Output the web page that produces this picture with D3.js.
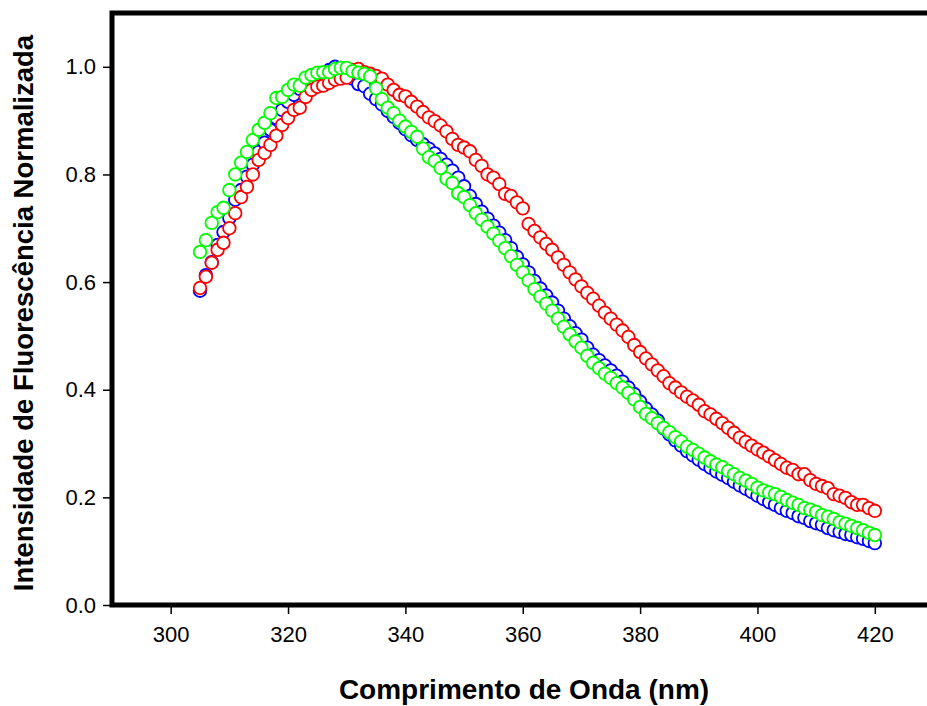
<!DOCTYPE html>
<html lang="pt">
<head>
    <meta charset="utf-8">
    <title>Fluorescência</title>
    <script src="https://d3js.org/d3.v7.min.js"></script>
    <style>
        body { margin: 0; background: #fff; }
        text { font-family: Arial, "Liberation Sans", sans-serif; }
        .tick text { font-size: 22px; fill: #000; }
        .tick line { stroke: #000; stroke-width: 1.5; }
        .domain { display: none; }
    </style>
</head>
<body>

<script>
    // comprimento de onda, 305..420 nm de 1 em 1
    const wavelengths = d3.range(305, 421, 1);

    const blueValues = [
        0.584, 0.613, 0.637, 0.669, 0.693, 0.719, 0.753, 0.771, 0.796, 0.818,
        0.842, 0.859, 0.883, 0.905, 0.920, 0.935, 0.948, 0.959, 0.972, 0.976,
        0.981, 0.987, 0.994, 1.000, 0.998, 0.994, 0.978, 0.968, 0.964, 0.950,
        0.940, 0.930, 0.918, 0.907, 0.896, 0.884, 0.873, 0.864, 0.856, 0.848,
        0.839, 0.829, 0.818, 0.807, 0.794, 0.778, 0.760, 0.745, 0.731, 0.718,
        0.705, 0.692, 0.678, 0.663, 0.647, 0.633, 0.618, 0.602, 0.588, 0.575,
        0.562, 0.547, 0.532, 0.518, 0.505, 0.493, 0.478, 0.465, 0.455, 0.445,
        0.436, 0.426, 0.415, 0.404, 0.392, 0.378, 0.365, 0.354, 0.343, 0.328,
        0.317, 0.306, 0.296, 0.286, 0.278, 0.270, 0.262, 0.255, 0.248, 0.242,
        0.236, 0.229, 0.222, 0.216, 0.210, 0.203, 0.197, 0.191, 0.186, 0.180,
        0.175, 0.171, 0.165, 0.162, 0.156, 0.152, 0.149, 0.143, 0.139, 0.136,
        0.132, 0.130, 0.126, 0.123, 0.119, 0.115
    ];

    const redValues = [
        0.589, 0.610, 0.636, 0.660, 0.673, 0.700, 0.728, 0.758, 0.777, 0.800,
        0.827, 0.840, 0.855, 0.872, 0.892, 0.905, 0.920, 0.924, 0.944, 0.957,
        0.963, 0.965, 0.970, 0.976, 0.978, 0.980, 0.994, 0.996, 0.990, 0.987,
        0.983, 0.978, 0.967, 0.957, 0.948, 0.945, 0.935, 0.926, 0.916, 0.906,
        0.899, 0.891, 0.880, 0.866, 0.855, 0.850, 0.843, 0.827, 0.816, 0.800,
        0.794, 0.782, 0.764, 0.760, 0.748, 0.737, 0.708, 0.695, 0.683, 0.671,
        0.660, 0.646, 0.632, 0.618, 0.605, 0.592, 0.580, 0.569, 0.556, 0.543,
        0.532, 0.521, 0.510, 0.498, 0.483, 0.470, 0.458, 0.447, 0.436, 0.425,
        0.412, 0.404, 0.395, 0.387, 0.380, 0.372, 0.360, 0.354, 0.346, 0.338,
        0.329, 0.320, 0.311, 0.303, 0.296, 0.289, 0.283, 0.276, 0.269, 0.262,
        0.255, 0.251, 0.243, 0.243, 0.232, 0.225, 0.221, 0.217, 0.206, 0.203,
        0.199, 0.191, 0.186, 0.186, 0.180, 0.175
    ];

    const greenValues = [
        0.656, 0.678, 0.710, 0.730, 0.738, 0.771, 0.800, 0.822, 0.842, 0.864,
        0.883, 0.896, 0.914, 0.942, 0.944, 0.957, 0.967, 0.965, 0.980, 0.985,
        0.989, 0.990, 0.990, 0.996, 0.998, 0.998, 0.992, 0.989, 0.987, 0.982,
        0.960, 0.940, 0.924, 0.914, 0.900, 0.889, 0.879, 0.870, 0.848, 0.832,
        0.825, 0.812, 0.792, 0.784, 0.765, 0.758, 0.743, 0.728, 0.716, 0.703,
        0.690, 0.677, 0.663, 0.648, 0.632, 0.618, 0.603, 0.587, 0.573, 0.560,
        0.547, 0.532, 0.517, 0.503, 0.490, 0.478, 0.463, 0.450, 0.440, 0.430,
        0.422, 0.412, 0.404, 0.394, 0.382, 0.368, 0.355, 0.347, 0.338, 0.329,
        0.321, 0.312, 0.304, 0.294, 0.288, 0.281, 0.274, 0.267, 0.261, 0.256,
        0.249, 0.243, 0.236, 0.231, 0.225, 0.218, 0.213, 0.209, 0.206, 0.201,
        0.195, 0.190, 0.186, 0.180, 0.177, 0.173, 0.167, 0.164, 0.160, 0.154,
        0.151, 0.147, 0.143, 0.139, 0.134, 0.130
    ];

    const xTicks = [300, 320, 340, 360, 380, 400, 420];
    const yTicks = [0.0, 0.2, 0.4, 0.6, 0.8, 1.0];

    // ordem de desenho: azul, vermelho, verde por cima
    const series = [
        {color: '#0000ff', values: blueValues},
        {color: '#ff0000', values: redValues},
        {color: '#00ff00', values: greenValues}
    ];

    const width = 927, height = 706;

    const x = d3.scaleLinear().domain([290, 430]).range([112, 933.5]);
    const y = d3.scaleLinear().domain([0, 1.1]).range([605, 13]);

    const svg = d3.select("body").append("svg")
            .attr("width", width)
            .attr("height", height);

    // eixos
    svg.append("g")
            .attr("transform", `translate(0,${y(0)})`)
            .call(d3.axisBottom(x).tickValues(xTicks).tickSize(9).tickPadding(12).tickFormat(d3.format("d")));

    svg.append("g")
            .attr("transform", `translate(${x(290)},0)`)
            .call(d3.axisLeft(y).tickValues(yTicks).tickSize(9).tickPadding(7).tickFormat(d3.format(".1f")));

    // pontos
    series.forEach(s => {
        svg.append("g")
                .selectAll("circle")
                .data(s.values.map((v, i) => [wavelengths[i], v]))
                .join("circle")
                .attr("cx", d => x(d[0]))
                .attr("cy", d => y(d[1]))
                .attr("r", 6.3)
                .attr("fill", "#fff")
                .attr("stroke", s.color)
                .attr("stroke-width", 1.8);
    });

    // moldura grossa
    svg.append("rect")
            .attr("x", x(290))
            .attr("y", y(1.1))
            .attr("width", x(430) - x(290))
            .attr("height", y(0) - y(1.1))
            .attr("fill", "none")
            .attr("stroke", "#000")
            .attr("stroke-width", 5);

    svg.append("text")
            .attr("x", 524)
            .attr("y", 699)
            .attr("text-anchor", "middle")
            .style("font-size", "28px")
            .style("font-weight", "bold")
            .text("Comprimento de Onda (nm)");

    svg.append("text")
            .attr("transform", "translate(33,313) rotate(-90)")
            .attr("text-anchor", "middle")
            .style("font-size", "27.5px")
            .style("font-weight", "bold")
            .text("Intensidade de Fluorescência Normalizada");
</script>

</body>
</html>
